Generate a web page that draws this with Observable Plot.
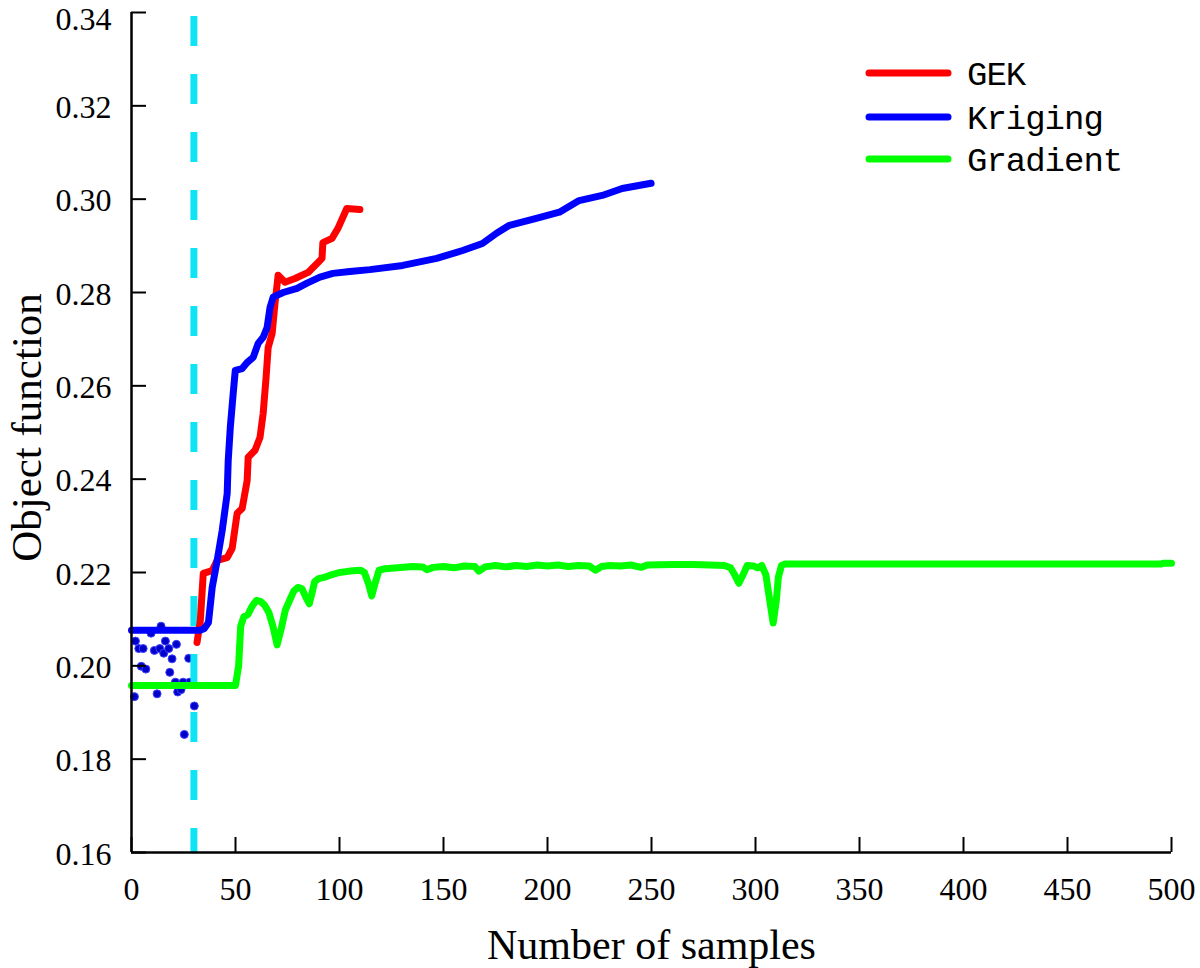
<!DOCTYPE html>
<html>
<head>
<meta charset="utf-8">
<script src="https://cdn.jsdelivr.net/npm/d3@7"></script>
<script src="https://cdn.jsdelivr.net/npm/@observablehq/plot@0.6"></script>
<style>
  html, body { margin: 0; padding: 0; background: #fff; }
  #wrap { position: relative; width: 1200px; height: 968px; }
  #legend { position: absolute; left: 0; top: 0; pointer-events: none; }
</style>
</head>
<body>
<div id="wrap"></div>
<script>
// ---- data ----
const seriesNames = ["GEK", "Kriging", "Gradient"];
const seriesColors = ["#ff0000", "#0000ff", "#00ff00"];

const gekX = [31.5, 33.1, 34.5, 38.8, 41.2, 46, 48.4, 50.8, 53.2, 55.6, 56.1, 59.4, 61.8, 63.3, 64.7, 65.7, 67.6, 69, 70.5, 73.8, 78.6, 84.9, 89.2, 91.6, 92, 96.4, 99.2, 103.5, 109.8];
const gekY = [0.2050, 0.2097, 0.2198, 0.2204, 0.2226, 0.2232, 0.2252, 0.2327, 0.2337, 0.2397, 0.2447, 0.2462, 0.2490, 0.2541, 0.2618, 0.2682, 0.2712, 0.2777, 0.2837, 0.2822, 0.2830, 0.2843, 0.2862, 0.2873, 0.2907, 0.2916, 0.2937, 0.2980, 0.2978];

const krigingX = [0, 33, 35, 37, 38.8, 41.2, 43.6, 46, 46.5, 47.5, 48.9, 49.9, 53.2, 55.6, 58.5, 60.9, 63.3, 65.2, 66.6, 68.1, 72.9, 79.6, 84.4, 90.6, 96.8, 105, 114.6, 130.4, 146.7, 159.2, 168.7, 175.5, 181.7, 194.6, 205.7, 215.2, 226.3, 235.9, 249.8];
const krigingY = [0.2076, 0.2076, 0.2080, 0.2093, 0.2168, 0.2226, 0.2290, 0.2369, 0.2440, 0.2511, 0.2584, 0.2633, 0.2637, 0.2650, 0.2661, 0.2691, 0.2704, 0.2725, 0.2768, 0.2790, 0.2800, 0.2809, 0.2820, 0.2833, 0.2841, 0.2845, 0.2849, 0.2858, 0.2873, 0.2890, 0.2905, 0.2927, 0.2944, 0.2959, 0.2972, 0.2997, 0.3008, 0.3023, 0.3034];

const gradientX = [0, 50, 51.5, 52.5, 54, 56, 58, 60, 62, 64, 66, 68, 70, 72, 74, 76, 78, 80, 82, 84, 85.5, 87, 88, 90, 93, 96, 100, 105, 110, 112, 114, 115.5, 117, 119, 122, 128, 135, 140, 142, 145, 150, 155, 160, 165, 167, 170, 175, 180, 185, 190, 195, 200, 205, 210, 215, 220, 223, 226, 230, 235, 240, 245, 248, 260, 270, 278, 285, 288, 290, 292, 294, 296, 299, 301, 303, 305, 306.5, 308.5, 310, 311, 312.5, 314, 400, 495, 496, 500];
const gradientY = [0.1958, 0.1958, 0.2000, 0.2085, 0.2105, 0.2110, 0.2128, 0.2140, 0.2138, 0.2130, 0.2115, 0.2085, 0.2045, 0.2080, 0.2120, 0.2140, 0.2160, 0.2168, 0.2165, 0.2145, 0.2133, 0.2160, 0.2180, 0.2187, 0.2190, 0.2195, 0.2200, 0.2203, 0.2205, 0.2200, 0.2175, 0.2150, 0.2175, 0.2205, 0.2208, 0.2210, 0.2213, 0.2212, 0.2206, 0.2211, 0.2213, 0.2210, 0.2214, 0.2213, 0.2203, 0.2212, 0.2215, 0.2212, 0.2215, 0.2213, 0.2216, 0.2214, 0.2216, 0.2213, 0.2215, 0.2214, 0.2205, 0.2213, 0.2215, 0.2214, 0.2216, 0.2211, 0.2216, 0.2217, 0.2217, 0.2216, 0.2215, 0.2210, 0.2195, 0.2177, 0.2195, 0.2215, 0.2214, 0.2210, 0.2215, 0.2195, 0.2150, 0.2092, 0.2140, 0.2190, 0.2215, 0.2218, 0.2218, 0.2218, 0.2220, 0.2220];

const sampleX = [14.2, 9.4, 1.9, 16.3, 21.6, 3.5, 5.6, 11.0, 13.6, 15.5, 17.9, 19.5, 27.5, 4.7, 6.9, 18.4, 27.9, 21.1, 24.8, 1.4, 12.3, 22.2, 23.8, 30.2, 25.4];
const sampleY = [0.2085, 0.2070, 0.2053, 0.2053, 0.2046, 0.2037, 0.2037, 0.2033, 0.2037, 0.2027, 0.2037, 0.2015, 0.2016, 0.1999, 0.1993, 0.1986, 0.1965, 0.1965, 0.1965, 0.1934, 0.1940, 0.1944, 0.1949, 0.1914, 0.1853];

const initialSamples = 30;
const xTicks = [0, 50, 100, 150, 200, 250, 300, 350, 400, 450, 500];
const yTicks = [0.16, 0.18, 0.20, 0.22, 0.24, 0.26, 0.28, 0.30, 0.32, 0.34];
const xTitle = "Number of samples";
const yTitle = "Object function";

// ---- tables ----
const zip = (xs, ys) => xs.map((x, i) => ({x, y: ys[i]}));
const gek = zip(gekX, gekY);
const kriging = zip(krigingX, krigingY);
const gradient = zip(gradientX, gradientY);
const samples = zip(sampleX, sampleY);

const W = 1200, H = 968, mL = 131, mR = 29, mT = 12, mB = 116;
const tickLen = 15;
const lineStyle = {x: "x", y: "y", strokeWidth: 7, strokeLinejoin: "round", strokeLinecap: "round"};
const yFmt = d3.format(".2f");

const chart = Plot.plot({
  width: W,
  height: H,
  marginLeft: mL,
  marginRight: mR,
  marginTop: mT,
  marginBottom: mB,
  style: {fontFamily: "'Liberation Serif', 'Times New Roman', serif", fontSize: "32px", color: "#000", background: "#fff"},
  x: {domain: [0, 500]},
  y: {domain: [0.16, 0.34]},
  marks: [
    Plot.dot(samples, {x: "x", y: "y", r: 4, fill: "#0000c8", stroke: "#4040ff", strokeWidth: 1}),
    Plot.ruleX([initialSamples], {stroke: "#10e4f4", strokeWidth: 7, strokeDasharray: "30,28", strokeDashoffset: -4}),
    Plot.line(gradient, {...lineStyle, stroke: seriesColors[2]}),
    Plot.line(gek, {...lineStyle, stroke: seriesColors[0]}),
    Plot.line(kriging, {...lineStyle, stroke: seriesColors[1]}),
    // inward tick marks
    Plot.tickX(xTicks, {x: d => d, stroke: "#000", strokeWidth: 2, insetTop: (H - mT - mB) - tickLen}),
    Plot.tickY(yTicks, {y: d => d, stroke: "#000", strokeWidth: 2, insetRight: (W - mL - mR) - tickLen}),
    Plot.axisX({ticks: xTicks, tickSize: 0, tickPadding: 25, label: null, tickFormat: d3.format("d")}),
    Plot.axisY({ticks: yTicks.slice(0, -1), tickSize: 0, tickPadding: 20, dy: 2, label: null, tickFormat: yFmt}),
    Plot.axisY({ticks: yTicks.slice(-1), tickSize: 0, tickPadding: 20, dy: 7, label: null, tickFormat: yFmt}),
    Plot.ruleX([0], {stroke: "#000", strokeWidth: 2.5}),
    Plot.ruleY([0.16], {stroke: "#000", strokeWidth: 2.5}),
    Plot.text([xTitle], {frameAnchor: "bottom", text: d => d, dy: 106, lineAnchor: "bottom", fontSize: 42, fill: "#000"}),
    Plot.text([yTitle], {frameAnchor: "left", text: d => d, dx: -91, dy: -5, rotate: -90, lineAnchor: "bottom", textAnchor: "middle", fontSize: 43, fill: "#000"})
  ]
});

const wrap = document.getElementById("wrap");
wrap.appendChild(chart);

// ---- legend (HTML overlay) ----
const ns = "http://www.w3.org/2000/svg";
const leg = document.createElementNS(ns, "svg");
leg.setAttribute("id", "legend");
leg.setAttribute("width", 1200);
leg.setAttribute("height", 220);
const legendY = [73, 117, 159];
seriesNames.forEach((name, i) => {
  const ln = document.createElementNS(ns, "line");
  ln.setAttribute("x1", 869); ln.setAttribute("x2", 948);
  ln.setAttribute("y1", legendY[i]); ln.setAttribute("y2", legendY[i]);
  ln.setAttribute("stroke", seriesColors[i]);
  ln.setAttribute("stroke-width", 7);
  ln.setAttribute("stroke-linecap", "round");
  leg.appendChild(ln);
  const tx = document.createElementNS(ns, "text");
  tx.setAttribute("x", 967);
  tx.setAttribute("y", legendY[i]);
  tx.setAttribute("dy", "0.35em");
  tx.setAttribute("font-family", "'Liberation Mono', 'DejaVu Sans Mono', monospace");
  tx.setAttribute("font-size", 34);
  tx.setAttribute("letter-spacing", "-1px");
  tx.setAttribute("fill", "#000");
  tx.textContent = name;
  leg.appendChild(tx);
});
wrap.appendChild(leg);
</script>
</body>
</html>
